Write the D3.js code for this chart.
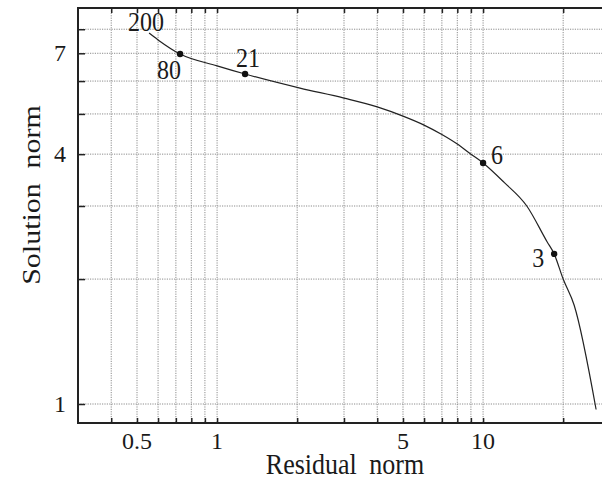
<!DOCTYPE html>
<meta charset="utf-8">
<style>
body {
  margin: 0;
  background: #fff;
}
svg text {
  font-family: 'Liberation Serif', 'Times New Roman', serif;
  fill: #1a1a1a;
}
.grid line {
  stroke: #8c8c8c;
  stroke-width: 1px;
  stroke-dasharray: 1.2,1.2;
}
.frame {
  stroke: #222;
  stroke-width: 2px;
  fill: none;
}
.tick line { stroke: #222; stroke-width: 1.5px; }
.line {
  fill: none;
  stroke: #222;
  stroke-width: 1.2px;
}
</style>
<body>
<script src="https://d3js.org/d3.v7.min.js"></script>
<script>

// L-curve samples (residual norm, solution norm)
var residual = [0.555, 0.6, 0.726, 1.0, 1.274, 2.05, 3, 4, 5, 6, 7, 8, 9, 10, 12, 14.6, 17.4, 18.5, 20, 22, 26.6];
var solution = [7.83, 7.54, 6.97, 6.53, 6.24, 5.77, 5.46, 5.20, 4.94, 4.70, 4.46, 4.23, 4.0, 3.81, 3.42, 3.0, 2.46, 2.30, 2.0, 1.73, 0.97];

// labelled points on the curve
var markLabels = ["200", "80", "21", "6", "3"];
var markResidual = [0.555, 0.726, 1.274, 10, 18.5];
var markSolution = [7.83, 6.97, 6.24, 3.81, 2.30];
var markDot = [false, true, true, true, true];
var labelDx = [-3, -11, 3, 14, -16];
var labelDy = [-2, 25, -7, 1, 13];

// axes
var xTicks = [0.5, 1, 5, 10];
var xGrid = [0.4, 0.5, 0.6, 0.7, 0.8, 0.9, 1, 2, 3, 4, 5, 6, 7, 8, 9, 10, 20];
var yTicks = [1, 4, 7];
var yGrid = [1, 2, 3, 4, 5, 6, 7, 8];

var margin = {top: 8, left: 78},
    width = 532,
    height = 415;

var x = d3.scaleLog().domain([0.3, 30]).range([0, width]);
var y = d3.scaleLog().domain([0.9, 9]).range([height, 0]);

var svg = d3.select("body").append("svg")
    .attr("width", 602)
    .attr("height", 479);

var g = svg.append("g")
    .attr("transform", "translate(" + margin.left + "," + margin.top + ")");

// dotted grid
var grid = g.append("g").attr("class", "grid");
grid.selectAll(".vx").data(xGrid).enter().append("line")
    .attr("x1", function(d) { return x(d); })
    .attr("x2", function(d) { return x(d); })
    .attr("y1", 0)
    .attr("y2", height);
grid.selectAll(".hy").data(yGrid).enter().append("line")
    .attr("x1", 0)
    .attr("x2", width)
    .attr("y1", function(d) { return y(d); })
    .attr("y2", function(d) { return y(d); });

// inner ticks on bottom, top and left
g.append("g")
    .attr("transform", "translate(0," + height + ")")
    .call(d3.axisBottom(x).tickValues(xGrid).tickSizeInner(-5).tickSizeOuter(0).tickFormat(""))
    .call(function(a) { a.select(".domain").remove(); });
g.append("g")
    .call(d3.axisTop(x).tickValues(xGrid).tickSizeInner(-5).tickSizeOuter(0).tickFormat(""))
    .call(function(a) { a.select(".domain").remove(); });
g.append("g")
    .call(d3.axisLeft(y).tickValues(yGrid).tickSizeInner(-7).tickSizeOuter(0).tickFormat(""))
    .call(function(a) { a.select(".domain").remove(); });

// frame: left, bottom, top
g.append("path")
    .attr("class", "frame")
    .attr("d", "M" + width + ",0H0V" + height + "H" + width);

// tick labels
g.selectAll(".xl").data(xTicks).enter().append("text")
    .attr("x", function(d) { return x(d); })
    .attr("y", height + 26)
    .attr("text-anchor", "middle")
    .style("font-size", "24px")
    .text(function(d) { return d; });
g.selectAll(".yl").data(yTicks).enter().append("text")
    .attr("x", -12)
    .attr("y", function(d) { return y(d); })
    .attr("dy", "0.34em")
    .attr("text-anchor", "end")
    .style("font-size", "24px")
    .text(function(d) { return d; });

// axis titles (the original is a bit stretched vertically)
g.append("text")
    .attr("transform", "translate(267," + (height + 51) + ") scale(1,1.15)")
    .attr("text-anchor", "middle")
    .style("font-size", "26px")
    .style("word-spacing", "6px")
    .text("Residual norm");
g.append("text")
    .attr("transform", "translate(-38,187) scale(1,1.2) rotate(-90)")
    .attr("text-anchor", "middle")
    .style("font-size", "25px")
    .style("word-spacing", "6px")
    .text("Solution norm");

// the curve
var pts = residual.map(function(r, i) { return [r, solution[i]]; });
g.append("path")
    .datum(pts)
    .attr("class", "line")
    .attr("d", d3.line()
        .curve(d3.curveMonotoneX)
        .x(function(d) { return x(d[0]); })
        .y(function(d) { return y(d[1]); }));

// markers + labels
markLabels.forEach(function(lab, i) {
  var px = x(markResidual[i]), py = y(markSolution[i]);
  if (markDot[i]) {
    g.append("circle")
        .attr("cx", px)
        .attr("cy", py)
        .attr("r", 3.2)
        .attr("fill", "#111");
  }
  g.append("text")
      .attr("transform", "translate(" + (px + labelDx[i]) + "," + (py + labelDy[i]) + ") scale(1,1.1)")
      .attr("text-anchor", "middle")
      .style("font-size", "24px")
      .text(lab);
});

</script>
</body>
